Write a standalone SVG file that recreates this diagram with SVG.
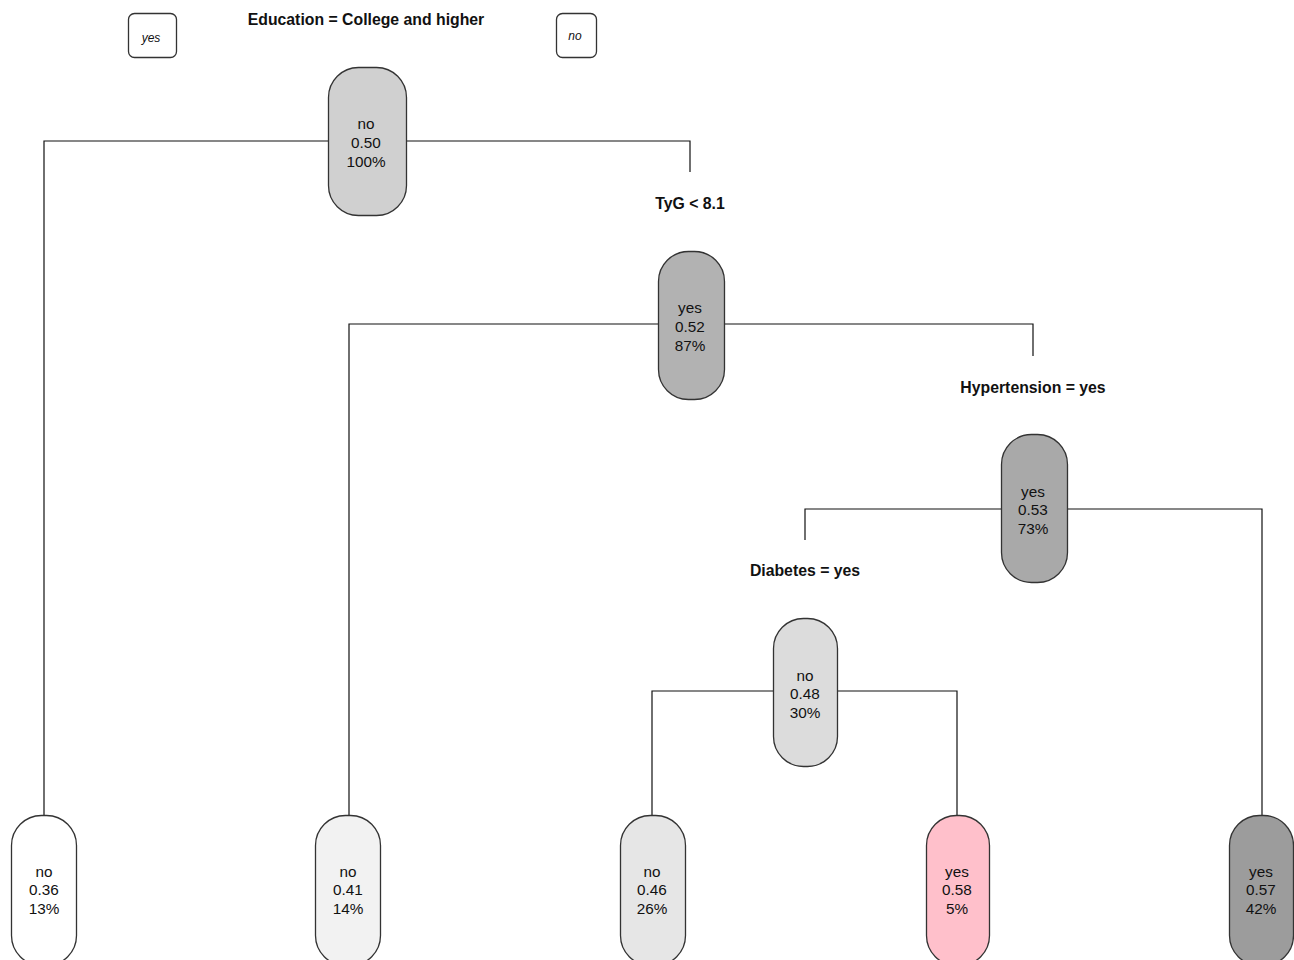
<svg xmlns="http://www.w3.org/2000/svg" width="1294" height="960" viewBox="0 0 1294 960">
<style>
.n{stroke:#333;stroke-width:1.3}
.t{font-family:"Liberation Sans",Arial,sans-serif;font-size:15.3px;fill:#111;text-anchor:middle}
.l{font-family:"Liberation Sans",Arial,sans-serif;font-size:15.8px;font-weight:bold;fill:#111;text-anchor:middle}
.i{font-family:"Liberation Sans",Arial,sans-serif;font-size:12px;font-style:italic;fill:#111;text-anchor:middle}
.c{fill:none;stroke:#111;stroke-width:1.2}
</style>
<rect width="1294" height="960" fill="#fff"/>
<g id="connectors">
<path class="c" d="M328,141 H44 V815 M406,141 H690 V172"/>
<path class="c" d="M658,324 H349 V815 M724,324 H1033 V356"/>
<path class="c" d="M1001,509 H805 V540 M1067,509 H1262 V815"/>
<path class="c" d="M773,691 H652 V815 M837,691 H957 V815"/>
</g>
<g id="legend-yes"><rect class="n" x="128.5" y="13.5" width="48" height="44" rx="6" fill="#fff"/><text class="i" x="151" y="42">yes</text></g>
<g id="legend-no"><rect class="n" x="556.5" y="13.5" width="40" height="44" rx="6" fill="#fff"/><text class="i" x="575" y="40">no</text></g>
<g id="label-education"><text class="l" x="366" y="25">Education = College and higher</text></g>
<g id="label-tyg"><text class="l" x="690" y="209">TyG &lt; 8.1</text></g>
<g id="label-hyp"><text class="l" x="1033" y="393">Hypertension = yes</text></g>
<g id="label-diab"><text class="l" x="805" y="576">Diabetes = yes</text></g>
<g id="node-root"><rect class="n" x="328.5" y="67.5" width="78" height="148" rx="30" fill="#d0d0d0"/>
<text class="t" x="366" y="129">no</text><text class="t" x="366" y="148">0.50</text><text class="t" x="366" y="167">100%</text></g>
<g id="node-tyg"><rect class="n" x="658.5" y="251.5" width="66" height="148" rx="30" fill="#b2b2b2"/>
<text class="t" x="690" y="313">yes</text><text class="t" x="690" y="332">0.52</text><text class="t" x="690" y="351">87%</text></g>
<g id="node-hyp"><rect class="n" x="1001.5" y="434.5" width="66" height="148" rx="30" fill="#a9a9a9"/>
<text class="t" x="1033" y="497">yes</text><text class="t" x="1033" y="515">0.53</text><text class="t" x="1033" y="534">73%</text></g>
<g id="node-diab"><rect class="n" x="773.5" y="618.5" width="64" height="148" rx="30" fill="#dcdcdc"/>
<text class="t" x="805" y="681">no</text><text class="t" x="805" y="699">0.48</text><text class="t" x="805" y="718">30%</text></g>
<g id="leaf-1"><rect class="n" x="11.5" y="815.5" width="65" height="150" rx="30" fill="#ffffff"/>
<text class="t" x="44" y="877">no</text><text class="t" x="44" y="895">0.36</text><text class="t" x="44" y="914">13%</text></g>
<g id="leaf-2"><rect class="n" x="315.5" y="815.5" width="65" height="150" rx="30" fill="#f2f2f2"/>
<text class="t" x="348" y="877">no</text><text class="t" x="348" y="895">0.41</text><text class="t" x="348" y="914">14%</text></g>
<g id="leaf-3"><rect class="n" x="620.5" y="815.5" width="65" height="150" rx="30" fill="#e6e6e6"/>
<text class="t" x="652" y="877">no</text><text class="t" x="652" y="895">0.46</text><text class="t" x="652" y="914">26%</text></g>
<g id="leaf-4"><rect class="n" x="926.5" y="815.5" width="63" height="150" rx="30" fill="#ffc0cb"/>
<text class="t" x="957" y="877">yes</text><text class="t" x="957" y="895">0.58</text><text class="t" x="957" y="914">5%</text></g>
<g id="leaf-5"><rect class="n" x="1229.5" y="815.5" width="64" height="150" rx="30" fill="#9c9c9c"/>
<text class="t" x="1261" y="877">yes</text><text class="t" x="1261" y="895">0.57</text><text class="t" x="1261" y="914">42%</text></g>
</svg>
